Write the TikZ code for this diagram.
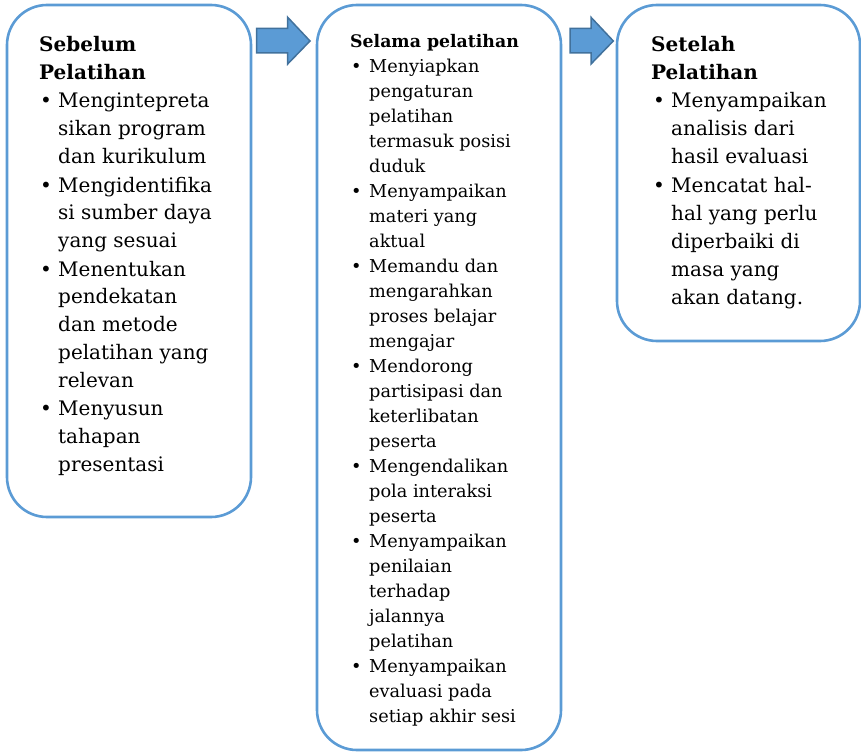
\documentclass[tikz,border=0pt]{standalone}
\usepackage{fontspec}
\setmainfont{DejaVu Serif}
\definecolor{boxblue}{RGB}{91,155,213}
\definecolor{arrowedge}{RGB}{65,113,156}
\begin{document}
\begin{tikzpicture}[x=1pt,y=-1pt,
  box/.style={draw=boxblue,line width=2.6pt,rounded corners=40pt},
  arr/.style={fill=boxblue,draw=arrowedge,line width=1.5pt,line join=miter},
  big/.style={font=\fontsize{20}{23}\selectfont,anchor=base west,inner sep=0pt},
  bigb/.style={font=\fontsize{20}{23}\selectfont\bfseries,anchor=base west,inner sep=0pt},
  small/.style={font=\fontsize{17.7}{20}\selectfont,anchor=base west,inner sep=0pt},
  smallb/.style={font=\fontsize{17.3}{20}\selectfont\bfseries,anchor=base west,inner sep=0pt}]
\useasboundingbox (0,0) rectangle (861,752);
% boxes
\draw[box] (7,5) rectangle (251,517);
\draw[box] (317,5) rectangle (561,750);
\draw[box] (617,5) rectangle (860,341);
% block arrows
\draw[arr] (256.7,28.3) -- (287.7,28.3) -- (287.7,17.3) -- (310,41) -- (287.7,64) -- (287.7,53) -- (256.7,53) -- cycle;
\draw[arr] (570,28.3) -- (591,28.3) -- (591,17.3) -- (613.3,41) -- (591,64) -- (591,53) -- (570,53) -- cycle;
% box 1
\node[bigb] (h1a) at (39,52) {Sebelum};
\node[bigb] (h1b) at (39,79) {Pelatihan};
\foreach \yy/\txt [count=\i] in {107/Mengintepreta,135/sikan program,163/dan kurikulum,
  192/Mengidentifika,219/si sumber daya,247/yang sesuai,
  276/Menentukan,303/pendekatan,331/dan metode,359/pelatihan yang,387/relevan,
  415/Menyusun,443/tahapan,471/presentasi}
  \node[big] (b1l\i) at (58,\yy) {\txt};
\foreach \yy [count=\i] in {107,192,276,415}
  \node[big] (b1b\i) at (40,\yy) {\textbullet};
% box 2
\node[smallb] (h2) at (350,47.7) {Selama pelatihan};
\foreach \txt [count=\i from 0] in {Menyiapkan,pengaturan,pelatihan,termasuk posisi,duduk,
  Menyampaikan,materi yang,aktual,
  Memandu dan,mengarahkan,proses belajar,mengajar,
  Mendorong,partisipasi dan,keterlibatan,peserta,
  Mengendalikan,pola interaksi,peserta,
  Menyampaikan,penilaian,terhadap,jalannya,pelatihan,
  Menyampaikan,evaluasi pada,setiap akhir sesi}
  \node[small] (b2l\i) at (369,{72.7+25*\i}) {\txt};
\foreach \i in {0,5,8,12,16,19,24}
  \node[small] (b2b\i) at (351,{72.7+25*\i}) {\textbullet};
% box 3
\node[bigb] (h3a) at (651,52) {Setelah};
\node[bigb] (h3b) at (651,79) {Pelatihan};
\foreach \yy/\txt [count=\i] in {107/Menyampaikan,135/analisis dari,163/hasil evaluasi,
  192/Mencatat hal-,220/hal yang perlu,248/diperbaiki di,276/masa yang,304/akan datang.}
  \node[big] (b3l\i) at (671,\yy) {\txt};
\foreach \yy [count=\i] in {107,192}
  \node[big] (b3b\i) at (653,\yy) {\textbullet};
\end{tikzpicture}
\end{document}
